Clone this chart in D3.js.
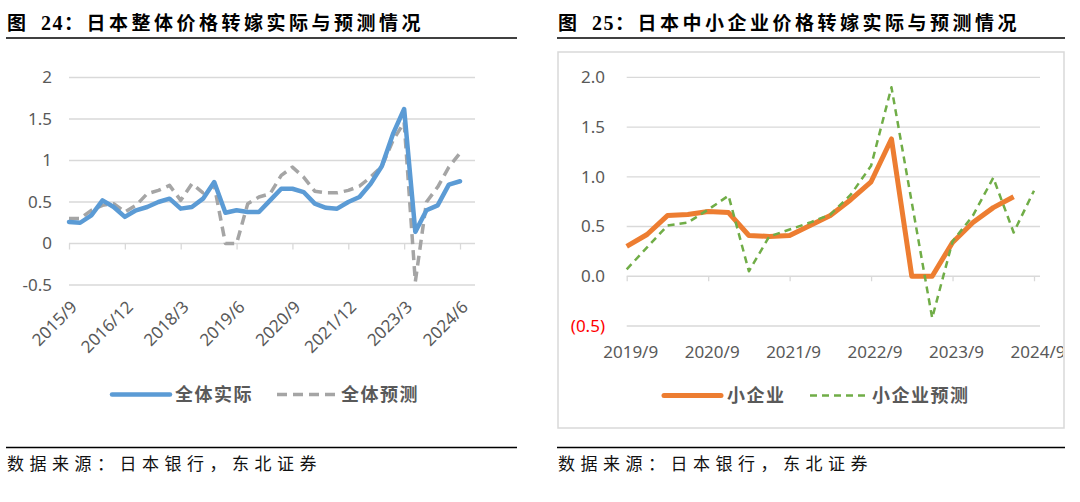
<!DOCTYPE html>
<html><head><meta charset="utf-8">
<script src="https://cdn.jsdelivr.net/npm/d3@7"></script>
<style>body{margin:0;background:#fff}svg{display:block}</style>
</head><body><svg id="c" width="1080" height="502"></svg>
<script>
// ---------- Data: chart 24 (overall) ----------
const quartersA = ["2015/9","2015/12","2016/3","2016/6","2016/9","2016/12","2017/3","2017/6","2017/9","2017/12",
  "2018/3","2018/6","2018/9","2018/12","2019/3","2019/6","2019/9","2019/12","2020/3","2020/6",
  "2020/9","2020/12","2021/3","2021/6","2021/9","2021/12","2022/3","2022/6","2022/9","2022/12",
  "2023/3","2023/6","2023/9","2023/12","2024/3","2024/6"];
const actualAll = [0.26,0.25,0.34,0.52,0.44,0.32,0.40,0.44,0.50,0.54,
  0.42,0.44,0.54,0.74,0.37,0.40,0.38,0.38,0.52,0.66,
  0.66,0.62,0.48,0.43,0.42,0.50,0.56,0.72,0.93,1.32,
  1.62,0.14,0.40,0.46,0.71,0.75];
const forecastAll = [0.30,0.30,0.40,0.46,0.48,0.38,0.46,0.60,0.64,0.70,
  0.52,0.72,0.61,0.70,0.00,0.00,0.48,0.56,0.60,0.82,
  0.92,0.80,0.63,0.61,0.61,0.64,0.69,0.80,0.93,1.24,
  1.46,-0.46,0.50,0.68,0.92,1.09];
const yTicksA = [2,1.5,1,0.5,0,-0.5];
const xTickLabelsA = ["2015/9","2016/12","2018/3","2019/6","2020/9","2021/12","2023/3","2024/6"];
const legendA = ["全体实际","全体预测"];
const titleA = ["图", "24", "：日本整体价格转嫁实际与预测情况"];

// ---------- Data: chart 25 (small enterprises) ----------
const quartersB = ["2019/9","2019/12","2020/3","2020/6","2020/9","2020/12","2021/3","2021/6","2021/9","2021/12",
  "2022/3","2022/6","2022/9","2022/12","2023/3","2023/6","2023/9","2023/12","2024/3","2024/6","2024/9"];
const smallActual = [0.30,0.42,0.61,0.62,0.65,0.64,0.41,0.40,0.41,0.51,
  0.61,0.77,0.95,1.38,0.00,0.00,0.34,0.54,0.69,0.80];
const smallForecast = [0.07,0.29,0.51,0.54,0.67,0.81,0.05,0.40,0.47,0.54,
  0.62,0.82,1.11,1.90,0.74,-0.42,0.35,0.61,0.99,0.44,0.86];
const yTicksB = [2,1.5,1,0.5,0,-0.5];
const xTickLabelsB = ["2019/9","2020/9","2021/9","2022/9","2023/9","2024/9"];
const legendB = ["小企业","小企业预测"];
const titleB = ["图", "25", "：日本中小企业价格转嫁实际与预测情况"];
const sourceText = "数据来源：日本银行，东北证券";

const svg = d3.select("#c");
const CJK = "'Noto Sans CJK SC','Noto Sans',sans-serif";
const NUM = "'Noto Sans','Open Sans',sans-serif";
const AXC = "#595959", GRID = "#D9D9D9";

function header(x0, x1, title) {
  const t = svg.append("text").attr("x", x0 + 1).attr("y", 30)
    .attr("font-family", CJK).attr("font-weight", 700).attr("font-size", 19)
    .attr("letter-spacing", 3.5).attr("fill", "#000");
  t.append("tspan").text(title[0]);
  t.append("tspan").attr("x", x0 + 35).text(title[1])
    .attr("font-family", "'Liberation Serif',serif").attr("font-size", 20).attr("letter-spacing", 1.5);
  t.append("tspan").text(title[2]);
  svg.append("line").attr("x1", x0).attr("x2", x1).attr("y1", 38).attr("y2", 38)
    .attr("stroke", "#000").attr("stroke-width", 1.6);
  svg.append("line").attr("x1", x0).attr("x2", x1).attr("y1", 447.5).attr("y2", 447.5)
    .attr("stroke", "#000").attr("stroke-width", 1.6);
  svg.append("text").attr("x", x0 + 1).attr("y", 470).text(sourceText)
    .attr("font-family", CJK).attr("font-size", 17).attr("letter-spacing", 5.5).attr("fill", "#111");
}

// ================= Chart 24 =================
header(6, 517, titleA);
{
  const g = svg.append("g");
  const x = d3.scalePoint().domain(quartersA).range([69, 460]);
  const y = d3.scaleLinear().domain([-0.5, 2]).range([285, 77.5]);
  const gridRight = 475;
  g.selectAll(".grid").data(yTicksA.filter(d => d !== 0)).join("line")
    .attr("x1", 69).attr("x2", gridRight).attr("y1", d => y(d)).attr("y2", d => y(d))
    .attr("stroke", GRID).attr("stroke-width", 1.3);
  const ax = d3.axisBottom(x).tickValues(xTickLabelsA).tickSize(6).tickFormat("");
  const axg = g.append("g").attr("transform", `translate(0,${y(0)})`).call(ax);
  axg.select(".domain").attr("d", `M69,0H${gridRight}`).attr("stroke", GRID).attr("stroke-width", 1.3);
  axg.selectAll(".tick line").attr("stroke", GRID).attr("stroke-width", 1.3);
  g.selectAll(".yl").data(yTicksA).join("text")
    .attr("x", 52).attr("y", d => y(d)).attr("dy", "0.35em").attr("text-anchor", "end")
    .attr("font-family", NUM).attr("font-size", 17).attr("fill", AXC).text(d => String(d));
  g.selectAll(".xl").data(xTickLabelsA).join("text")
    .attr("transform", d => `translate(${x(d) + 5},${304}) rotate(-45)`)
    .attr("text-anchor", "end").attr("dy", "0.35em")
    .attr("font-family", NUM).attr("font-size", 17).attr("fill", AXC).text(d => d);
  const line = d3.line().x((d, i) => x(quartersA[i])).y(d => y(d));
  g.append("path").attr("d", line(forecastAll)).attr("fill", "none")
    .attr("stroke", "#A5A5A5").attr("stroke-width", 3.5).attr("stroke-dasharray", "10,6")
    .attr("stroke-linejoin", "round");
  g.append("path").attr("d", line(actualAll)).attr("fill", "none")
    .attr("stroke", "#5B9BD5").attr("stroke-width", 4.5)
    .attr("stroke-linejoin", "round").attr("stroke-linecap", "round");
  const ly = 394.6;
  g.append("line").attr("x1", 112).attr("x2", 170).attr("y1", ly).attr("y2", ly)
    .attr("stroke", "#5B9BD5").attr("stroke-width", 4.5).attr("stroke-linecap", "round");
  g.append("text").attr("x", 175).attr("y", ly).attr("dy", "0.36em").text(legendA[0])
    .attr("font-family", CJK).attr("font-weight", 700).attr("font-size", 18).attr("letter-spacing", 1.5).attr("fill", AXC);
  g.append("line").attr("x1", 277).attr("x2", 335).attr("y1", ly).attr("y2", ly)
    .attr("stroke", "#A5A5A5").attr("stroke-width", 3.5).attr("stroke-dasharray", "10,6");
  g.append("text").attr("x", 341).attr("y", ly).attr("dy", "0.36em").text(legendA[1])
    .attr("font-family", CJK).attr("font-weight", 700).attr("font-size", 18).attr("letter-spacing", 1.5).attr("fill", AXC);
}

// ================= Chart 25 =================
header(557, 1065, titleB);
{
  svg.append("defs").append("clipPath").attr("id", "boxclip")
    .append("rect").attr("x", 558).attr("y", 52).attr("width", 505).attr("height", 376);
  svg.append("rect").attr("x", 558).attr("y", 52).attr("width", 506).attr("height", 376)
    .attr("fill", "#fff").attr("stroke", GRID).attr("stroke-width", 1.5);
  const g = svg.append("g").attr("clip-path", "url(#boxclip)");
  const x = d3.scalePoint().domain(quartersB).range([626.7, 1034]);
  const y = d3.scaleLinear().domain([-0.5, 2]).range([326, 77.3]);
  const gridRight = 1040;
  g.selectAll(".grid").data(yTicksB.filter(d => d !== 0)).join("line")
    .attr("x1", 626.7).attr("x2", gridRight).attr("y1", d => y(d)).attr("y2", d => y(d))
    .attr("stroke", GRID).attr("stroke-width", 1.3);
  const ax = d3.axisBottom(x).tickValues(xTickLabelsB).tickSize(5).tickFormat("");
  const axg = g.append("g").attr("transform", `translate(0,${y(0)})`).call(ax);
  axg.select(".domain").attr("d", `M626.7,0H${gridRight}`).attr("stroke", GRID).attr("stroke-width", 1.3);
  axg.selectAll(".tick line").attr("stroke", GRID).attr("stroke-width", 1.3);
  g.selectAll(".yl").data(yTicksB).join("text")
    .attr("x", 605).attr("y", d => y(d)).attr("dy", "0.35em").attr("text-anchor", "end")
    .attr("font-family", NUM).attr("font-size", 17)
    .attr("fill", d => d < 0 ? "#FF0000" : AXC)
    .text(d => d < 0 ? `(${Math.abs(d).toFixed(1)})` : d.toFixed(1));
  g.selectAll(".xl").data(xTickLabelsB).join("text")
    .attr("x", d => x(d) + 4).attr("y", 352).attr("dy", "0.35em").attr("text-anchor", "middle")
    .attr("font-family", NUM).attr("font-size", 17).attr("fill", AXC).text(d => d);
  const line = d3.line().x((d, i) => x(quartersB[i])).y(d => y(d));
  g.append("path").attr("d", line(smallActual)).attr("fill", "none")
    .attr("stroke", "#ED7D31").attr("stroke-width", 5).attr("stroke-linejoin", "round");
  g.append("path").attr("d", line(smallForecast)).attr("fill", "none")
    .attr("stroke", "#70AD47").attr("stroke-width", 2.5).attr("stroke-dasharray", "7,5")
    .attr("stroke-linejoin", "round");
  const ly = 395.6;
  g.append("line").attr("x1", 664).attr("x2", 721).attr("y1", ly).attr("y2", ly)
    .attr("stroke", "#ED7D31").attr("stroke-width", 5).attr("stroke-linecap", "round");
  g.append("text").attr("x", 727).attr("y", ly).attr("dy", "0.36em").text(legendB[0])
    .attr("font-family", CJK).attr("font-weight", 700).attr("font-size", 18).attr("letter-spacing", 1.5).attr("fill", AXC);
  g.append("line").attr("x1", 810).attr("x2", 867).attr("y1", ly).attr("y2", ly)
    .attr("stroke", "#70AD47").attr("stroke-width", 2.5).attr("stroke-dasharray", "7,5");
  g.append("text").attr("x", 872).attr("y", ly).attr("dy", "0.36em").text(legendB[1])
    .attr("font-family", CJK).attr("font-weight", 700).attr("font-size", 18).attr("letter-spacing", 1.5).attr("fill", AXC);
}
</script></body></html>
